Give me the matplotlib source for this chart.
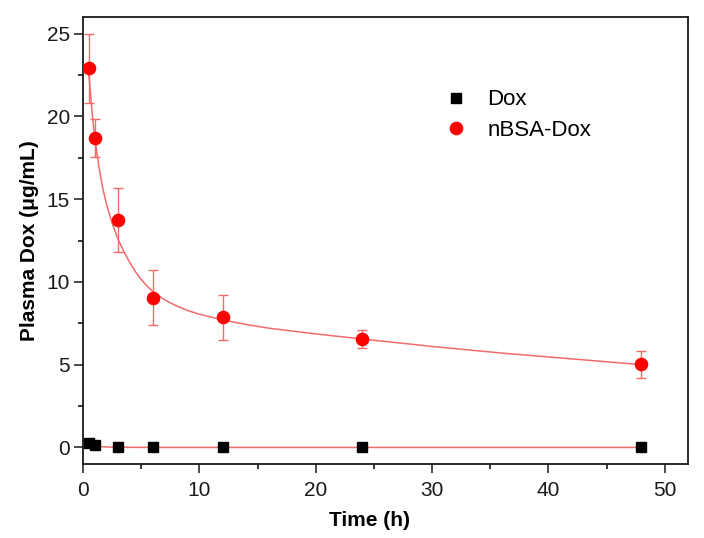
import matplotlib
matplotlib.use("Agg")
import matplotlib.pyplot as plt
from matplotlib.ticker import MultipleLocator

plt.rcParams['font.family'] = ['Liberation Sans', 'DejaVu Sans']

# Data
time_h = [0.5, 1, 3, 6, 12, 24, 48]
dox = [0.26, 0.12, 0.0, 0.0, 0.0, 0.0, 0.0]
nbsa_dox = [22.9, 18.7, 13.75, 9.05, 7.85, 6.55, 5.02]
nbsa_err = [2.1, 1.15, 1.95, 1.65, 1.35, 0.55, 0.83]

# Fitted curves
fit_t = [0.5, 0.75, 1.0, 1.25, 1.5, 1.75, 2.0, 2.5, 3.0, 3.5, 4.0, 4.5, 5.0, 5.5, 6.0, 7.0,
         8.0, 9.0, 10.0, 12.0, 14.0, 16.0, 20.0, 24.0, 30.0, 36.0, 42.0, 48.0]
fit_nbsa = [22.6, 20.5, 18.75, 17.5, 16.4, 15.5, 14.75, 13.55, 12.6, 11.85, 11.2, 10.62,
            10.15, 9.75, 9.42, 8.92, 8.56, 8.27, 8.05, 7.7, 7.43, 7.2, 6.86, 6.55, 6.1,
            5.7, 5.35, 5.0]
fit_dox_t = [0.5, 1.0, 2.0, 3.0, 6.0, 48.0]
fit_dox = [0.14, 0.08, 0.03, 0.01, 0.0, 0.0]

x_ticks = [0, 10, 20, 30, 40, 50]
y_ticks = [0, 5, 10, 15, 20, 25]

fig = plt.figure(figsize=(7.04, 5.38), dpi=100)
ax = fig.add_axes([83/704, 1-464/538, (688-83)/704, (464-17)/538])

line_red = '#f26b6b'
ax.plot(fit_dox_t, fit_dox, color=line_red, lw=1.1, zorder=2)
ax.plot(fit_t, fit_nbsa, color=line_red, lw=1.1, zorder=2)
ax.errorbar(time_h, nbsa_dox, yerr=nbsa_err, fmt='none', ecolor=line_red,
            elinewidth=1.0, capsize=3.5, capthick=1.0, zorder=3)
ax.plot(time_h, dox, 's', color='black', ms=7.2, ls='none', zorder=4, label='Dox')
ax.plot(time_h, nbsa_dox, 'o', color='#ff0000', ms=8.8, ls='none', zorder=5, label='nBSA-Dox')

ax.set_xlim(0, 52)
ax.set_ylim(-1, 26)
ax.set_xticks(x_ticks)
ax.set_yticks(y_ticks)
ax.xaxis.set_minor_locator(MultipleLocator(5))
ax.yaxis.set_minor_locator(MultipleLocator(2.5))
ax.tick_params(which='major', direction='out', length=6.5, width=1.1, labelsize=15,
               colors='#1a1a1a', top=False, right=False)
ax.tick_params(which='minor', direction='out', length=3.5, width=1.1, top=False, right=False)
ax.tick_params(axis='x', pad=6)
ax.tick_params(axis='y', pad=3)
for s in ax.spines.values():
    s.set_linewidth(1.3)
    s.set_color('#1a1a1a')

ax.set_xlabel('Time (h)', fontsize=15, fontweight='bold', labelpad=6)
ax.xaxis.set_label_coords(0.473, -0.105)
ax.set_ylabel('Plasma Dox (μg/mL)', fontsize=15, fontweight='bold', labelpad=5)

leg = ax.legend(loc='upper left', bbox_to_anchor=(0.5655, 0.883), frameon=False,
                fontsize=16, handlelength=1.0, handletextpad=0.9, labelspacing=0.44,
                markerscale=1.0, borderpad=0.4)

fig.savefig('out.png', dpi=100)
